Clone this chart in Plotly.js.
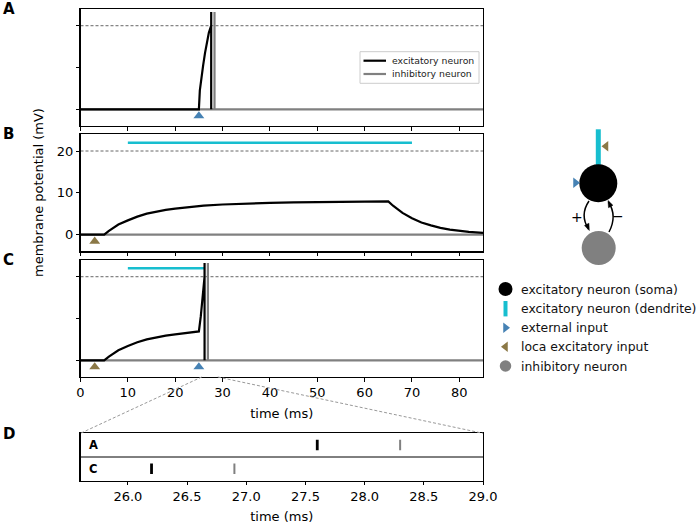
<!DOCTYPE html>
<html>
<head>
<meta charset="utf-8">
<script src="https://cdn.plot.ly/plotly-3.0.1.min.js"></script>
<style>html,body{margin:0;padding:0;background:#fff;}#chart{width:698px;height:524px;}</style>
</head>
<body>
<div id="chart"></div>
<script>
// ---------------- data ----------------
const threshold = 20;          // mV, firing threshold (dashed line)
const spikeTop = 23.3;         // drawn height of spike lines
const resetV = 0;              // reset potential after a spike
const tEnd = 85;

// Panel A: external input only
const tA_exc = [0, 25, 25.2, 25.5, 25.9, 26.3, 26.7, 27.1, 27.6];
const vA_exc = [0, 0, 4.5, 7.5, 10.5, 13.5, 16.3, 18.3, 20];
const spikeA_exc = 27.6;
const spikeA_inh = 28.3;
const extInputA = [25];

// Panel B: local (dendritic) excitatory input only
const tB_exc = [0, 5, 6, 7, 8, 10, 12, 14, 16, 18, 20, 23, 26, 30, 35, 40, 45, 50, 55, 60, 65, 66, 67, 68, 70, 72, 74, 76, 78, 80, 82, 85];
const vB_exc = [0, 0, 0.9, 1.7, 2.4, 3.4, 4.3, 5.0, 5.5, 5.9, 6.2, 6.6, 6.95, 7.2, 7.45, 7.6, 7.7, 7.8, 7.85, 7.9, 7.95, 6.9, 6.0, 5.2, 3.9, 2.9, 2.2, 1.6, 1.2, 0.9, 0.65, 0.4];
const tB_inh = [0, 85];
const vB_inh = [0, 0];
const localInputB = [3];
const dendriteB = [10, 70];

// Panel C: local input followed by external input
const tC_exc = [0, 5, 6, 7, 8, 10, 12, 14, 16, 18, 20, 23, 25, 25.4, 25.8, 26.2];
const vC_exc = [0, 0, 0.9, 1.7, 2.4, 3.4, 4.3, 5.0, 5.5, 5.9, 6.2, 6.6, 6.9, 10.5, 14.8, 20];
const spikeC_exc = 26.2;
const spikeC_inh = 26.9;
const localInputC = [3];
const extInputC = [25];
const dendriteC = [10, 26.2];

// Panel D: spike raster (zoom)
const rasterRows = ['A', 'C'];
const rasterExc = [27.6, 26.2];
const rasterInh = [28.3, 26.9];
const zoomRange = [25.6, 29.0];

// axis ticks
const timeTicks = [0, 10, 20, 30, 40, 50, 60, 70, 80];
const vTicks = [0, 10, 20];
const zoomTicks = [26.0, 26.5, 27.0, 27.5, 28.0, 28.5, 29.0];

// legends
const legendNames = ['excitatory neuron', 'inhibitory neuron'];
const diagLabels = ['excitatory neuron (soma)', 'excitatory neuron (dendrite)', 'external input', 'loca excitatory input', 'inhibitory neuron'];

// ---------------- styles ----------------
const FONT = 'DejaVu Sans';
const BLACK = '#000000', GRAY = '#808080', CYAN = '#17becf', BLUE = '#4682b4', BROWN = '#8b7846';
const legendColors = [BLACK, GRAY];
const W = 698, H = 524;
const fx = px => px / W;
const fy = py => 1 - py / H;
const plotL = 80.5, plotR = 483;
const markerY = -1.6;

function excWithSpike(t, v, ts) {
  return { x: t.concat([ts, ts, ts, tEnd]), y: v.concat([spikeTop, resetV, resetV]) };
}
function inhWithSpike(ts) {
  return { x: [0, ts, ts, ts, tEnd], y: [0, 0, spikeTop, resetV, 0] };
}

const traces = [];
// ---- Panel A ----
const aI = inhWithSpike(spikeA_inh);
traces.push({ x: aI.x, y: aI.y, xaxis: 'x', yaxis: 'y', mode: 'lines', line: { color: GRAY, width: 2.2 }, name: legendNames[1], showlegend: false });
const aE = excWithSpike(tA_exc, vA_exc, spikeA_exc);
traces.push({ x: aE.x, y: aE.y, xaxis: 'x', yaxis: 'y', mode: 'lines', line: { color: BLACK, width: 2.2 }, name: legendNames[0], showlegend: false });
traces.push({ x: extInputA, y: extInputA.map(() => markerY), xaxis: 'x', yaxis: 'y', mode: 'markers', marker: { symbol: 'triangle-up', size: 9.5, color: BLUE }, showlegend: false, cliponaxis: false });

// ---- Panel B ----
traces.push({ x: dendriteB, y: [22, 22], xaxis: 'x2', yaxis: 'y2', mode: 'lines', line: { color: CYAN, width: 2.5 }, showlegend: false });
traces.push({ x: tB_inh, y: vB_inh, xaxis: 'x2', yaxis: 'y2', mode: 'lines', line: { color: GRAY, width: 2.2 }, showlegend: false });
traces.push({ x: tB_exc, y: vB_exc, xaxis: 'x2', yaxis: 'y2', mode: 'lines', line: { color: BLACK, width: 2.2 }, showlegend: false });
traces.push({ x: localInputB, y: localInputB.map(() => markerY), xaxis: 'x2', yaxis: 'y2', mode: 'markers', marker: { symbol: 'triangle-up', size: 9.5, color: BROWN }, showlegend: false });

// ---- Panel C ----
traces.push({ x: dendriteC, y: [22, 22], xaxis: 'x3', yaxis: 'y3', mode: 'lines', line: { color: CYAN, width: 2.5 }, showlegend: false });
const cI = inhWithSpike(spikeC_inh);
traces.push({ x: cI.x, y: cI.y, xaxis: 'x3', yaxis: 'y3', mode: 'lines', line: { color: GRAY, width: 2.2 }, showlegend: false });
const cE = excWithSpike(tC_exc, vC_exc, spikeC_exc);
traces.push({ x: cE.x, y: cE.y, xaxis: 'x3', yaxis: 'y3', mode: 'lines', line: { color: BLACK, width: 2.2 }, showlegend: false });
traces.push({ x: localInputC, y: localInputC.map(() => markerY), xaxis: 'x3', yaxis: 'y3', mode: 'markers', marker: { symbol: 'triangle-up', size: 9.5, color: BROWN }, showlegend: false });
traces.push({ x: extInputC, y: extInputC.map(() => markerY), xaxis: 'x3', yaxis: 'y3', mode: 'markers', marker: { symbol: 'triangle-up', size: 9.5, color: BLUE }, showlegend: false });

// ---- Panel D raster ----
function rasterTrace(times, color, width) {
  const x = [], y = [];
  times.forEach((t, i) => {
    const row = rasterRows.length - 1 - i;
    x.push(t, t, null);
    y.push(row + 0.28, row + 0.73, null);
  });
  return { x, y, xaxis: 'x4', yaxis: 'y4', mode: 'lines', line: { color, width }, showlegend: false };
}
traces.push(rasterTrace(rasterExc, BLACK, 2.8));
traces.push(rasterTrace(rasterInh, GRAY, 2));

// ---- Diagram (pixel-space overlay axis) ----
const soma = { x: 598.3, y: 183.3 }, inh = { x: 598.7, y: 248 };
traces.push({ x: [soma.x], y: [soma.y], xaxis: 'x5', yaxis: 'y5', mode: 'markers', marker: { symbol: 'circle', size: 38, color: BLACK }, showlegend: false });
traces.push({ x: [inh.x], y: [inh.y], xaxis: 'x5', yaxis: 'y5', mode: 'markers', marker: { symbol: 'circle', size: 34, color: GRAY }, showlegend: false });
traces.push({ x: [575.5], y: [182.8], xaxis: 'x5', yaxis: 'y5', mode: 'markers', marker: { symbol: 'triangle-right', size: 9, color: BLUE }, showlegend: false });
traces.push({ x: [606], y: [146.3], xaxis: 'x5', yaxis: 'y5', mode: 'markers', marker: { symbol: 'triangle-left', size: 9, color: BROWN }, showlegend: false });

// diagram legend markers
const legRowY = [289, 308.7, 327.7, 346.7, 366];
const legMX = 505.5, legTX = 519;
const legSyms = [
  { symbol: 'circle', size: 14, color: BLACK },
  { symbol: 'line-ns', size: 11, color: CYAN, line: { color: CYAN, width: 4 } },
  { symbol: 'triangle-right', size: 9, color: BLUE },
  { symbol: 'triangle-left', size: 9, color: BROWN },
  { symbol: 'circle', size: 11.5, color: GRAY }
];
legSyms.forEach((m, i) => {
  traces.push({ x: [legMX], y: [legRowY[i]], xaxis: 'x5', yaxis: 'y5', mode: 'markers', marker: m, showlegend: false });
});

// ---------------- shapes ----------------
const shapes = [];
[['x', 'y'], ['x2', 'y2'], ['x3', 'y3']].forEach(([xa, ya]) => {
  shapes.push({ type: 'line', xref: xa, yref: ya, x0: 0, x1: tEnd, y0: threshold, y1: threshold, line: { color: '#555555', width: 0.9, dash: '3px,2px' }, layer: 'below' });
});
// raster row separator
shapes.push({ type: 'line', xref: 'x4 domain', yref: 'y4', x0: 0, x1: 1, y0: 1, y1: 1, line: { color: BLACK, width: 1 } });
// zoom connector lines
const cBottom = 377, dTop = 433.3;
const pxOfT = t => plotL + t / tEnd * (plotR - plotL);
shapes.push({ type: 'line', xref: 'paper', yref: 'paper', x0: fx(pxOfT(zoomRange[0])), y0: fy(cBottom), x1: fx(plotL), y1: fy(dTop), line: { color: '#999999', width: 1, dash: '3px,2px' } });
shapes.push({ type: 'line', xref: 'paper', yref: 'paper', x0: fx(pxOfT(zoomRange[1])), y0: fy(cBottom), x1: fx(plotR), y1: fy(dTop), line: { color: '#999999', width: 1, dash: '3px,2px' } });
// legend box for panel A (matplotlib-style)
shapes.push({ type: 'rect', xref: 'paper', yref: 'paper', x0: fx(360), x1: fx(479), y0: fy(51.7), y1: fy(83.3), fillcolor: 'rgba(255,255,255,0.85)', line: { color: '#cccccc', width: 1 } });
const legLineY = [60.7, 74];
legendNames.forEach((n, i) => {
  shapes.push({ type: 'line', xref: 'paper', yref: 'paper', x0: fx(363.5), x1: fx(386), y0: fy(legLineY[i]), y1: fy(legLineY[i]), line: { color: legendColors[i], width: 2.2 } });
});
// dendrite bar
shapes.push({ type: 'line', xref: 'x5', yref: 'y5', x0: 598.3, x1: 598.3, y0: 129.3, y1: 168, line: { color: CYAN, width: 5 }, layer: 'below' });
// arcs
shapes.push({ type: 'path', xref: 'x5', yref: 'y5', path: 'M 589 201 Q 579.5 215 588.5 229', line: { color: BLACK, width: 1.5 } });
shapes.push({ type: 'path', xref: 'x5', yref: 'y5', path: 'M 609 232 Q 617.5 216 608.5 202', line: { color: BLACK, width: 1.5 } });
shapes.push({ type: 'path', xref: 'x5', yref: 'y5', path: 'M 589.3 230.5 L 584.5 225.6 L 588.9 223.2 Z', fillcolor: BLACK, line: { color: BLACK, width: 0.5 } });
shapes.push({ type: 'path', xref: 'x5', yref: 'y5', path: 'M 608 200.5 L 612.9 205.3 L 608.5 207.7 Z', fillcolor: BLACK, line: { color: BLACK, width: 0.5 } });

// ---------------- annotations ----------------
const annotations = [];
const panelLabels = [['A', 9], ['B', 134.5], ['C', 260], ['D', 434]];
panelLabels.forEach(([t, py]) => {
  annotations.push({ text: '<b>' + t + '</b>', xref: 'paper', yref: 'paper', x: fx(8.5), y: fy(py), xanchor: 'center', yanchor: 'middle', showarrow: false, font: { family: FONT, size: 15, color: BLACK } });
});
annotations.push({ text: 'membrane potential (mV)', textangle: -90, xref: 'paper', yref: 'paper', x: fx(38), y: fy(193), xanchor: 'center', yanchor: 'middle', showarrow: false, font: { family: FONT, size: 13, color: BLACK } });
legendNames.forEach((n, i) => {
  annotations.push({ text: n, xref: 'paper', yref: 'paper', x: fx(390), y: fy(legLineY[i]), xanchor: 'left', yanchor: 'middle', showarrow: false, font: { family: FONT, size: 9.3, color: '#222222' } });
});
rasterRows.forEach((r, i) => {
  const row = rasterRows.length - 1 - i;
  annotations.push({ text: '<b>' + r + '</b>', xref: 'x4 domain', yref: 'y4', x: 0.015, y: row + 0.5, xanchor: 'left', yanchor: 'middle', showarrow: false, font: { family: FONT, size: 11.5, color: BLACK } });
});
annotations.push({ text: '+', xref: 'x5', yref: 'y5', x: 576.7, y: 216.7, showarrow: false, font: { family: FONT, size: 14, color: BLACK } });
annotations.push({ text: '\u2212', xref: 'x5', yref: 'y5', x: 617.5, y: 215.7, showarrow: false, font: { family: FONT, size: 14, color: BLACK } });
diagLabels.forEach((t, i) => {
  annotations.push({ text: t, xref: 'x5', yref: 'y5', x: legTX, y: legRowY[i], xanchor: 'left', yanchor: 'middle', showarrow: false, font: { family: FONT, size: 12.4, color: '#111111' } });
});

// ---------------- axes ----------------
function timeAxis(anchor, showLabels, extra) {
  return Object.assign({
    domain: [fx(plotL), fx(plotR)], range: [0, tEnd], anchor,
    tickmode: 'array', tickvals: timeTicks, showticklabels: showLabels,
    ticks: 'outside', ticklen: 3.5, tickwidth: 1, tickcolor: BLACK,
    showline: true, mirror: true, linecolor: BLACK, linewidth: 1.2,
    showgrid: false, zeroline: false, fixedrange: true,
    tickfont: { family: FONT, size: 13, color: BLACK }
  }, extra || {});
}
function vAxis(anchor, topPx, botPx, showLabels) {
  return {
    domain: [fy(botPx), fy(topPx)], range: [-4, 24], anchor,
    tickmode: 'array', tickvals: vTicks, showticklabels: showLabels,
    ticks: 'outside', ticklen: 3.5, tickwidth: 1, tickcolor: BLACK,
    showline: true, mirror: true, linecolor: BLACK, linewidth: 1.2,
    showgrid: false, zeroline: false, fixedrange: true,
    tickfont: { family: FONT, size: 13, color: BLACK }
  };
}

const layout = {
  width: W, height: H,
  margin: { l: 0, r: 0, t: 0, b: 0 },
  paper_bgcolor: '#ffffff', plot_bgcolor: 'rgba(0,0,0,0)',
  font: { family: FONT, size: 13, color: BLACK },
  hovermode: false,
  showlegend: false,
  xaxis: timeAxis('y', false),
  yaxis: vAxis('x', 9, 126, false),
  xaxis2: timeAxis('y2', false),
  yaxis2: vAxis('x2', 134.3, 251.3, true),
  xaxis3: timeAxis('y3', true, { title: { text: 'time (ms)', font: { family: FONT, size: 13, color: BLACK }, standoff: 9 } }),
  yaxis3: vAxis('x3', 260, 377, false),
  xaxis4: {
    domain: [fx(plotL), fx(plotR)], range: zoomRange, anchor: 'y4',
    tickmode: 'array', tickvals: zoomTicks, ticktext: zoomTicks.map(v => v.toFixed(1)),
    ticks: 'outside', ticklen: 3.5, tickwidth: 1, tickcolor: BLACK,
    showline: true, mirror: true, linecolor: BLACK, linewidth: 1.2,
    showgrid: false, zeroline: false, fixedrange: true,
    tickfont: { family: FONT, size: 13, color: BLACK },
    title: { text: 'time (ms)', font: { family: FONT, size: 13, color: BLACK }, standoff: 8 }
  },
  yaxis4: {
    domain: [fy(480.7), fy(433.3)], range: [0, 2], anchor: 'x4',
    showticklabels: false, ticks: '', showline: true, mirror: true, linecolor: BLACK, linewidth: 1.2,
    showgrid: false, zeroline: false, fixedrange: true
  },
  xaxis5: { domain: [0, 1], range: [0, W], anchor: 'y5', visible: false, fixedrange: true },
  yaxis5: { domain: [0, 1], range: [H, 0], anchor: 'x5', visible: false, fixedrange: true },
  shapes, annotations
};

Plotly.newPlot('chart', traces, layout, { staticPlot: true, displayModeBar: false });
</script>
</body>
</html>
